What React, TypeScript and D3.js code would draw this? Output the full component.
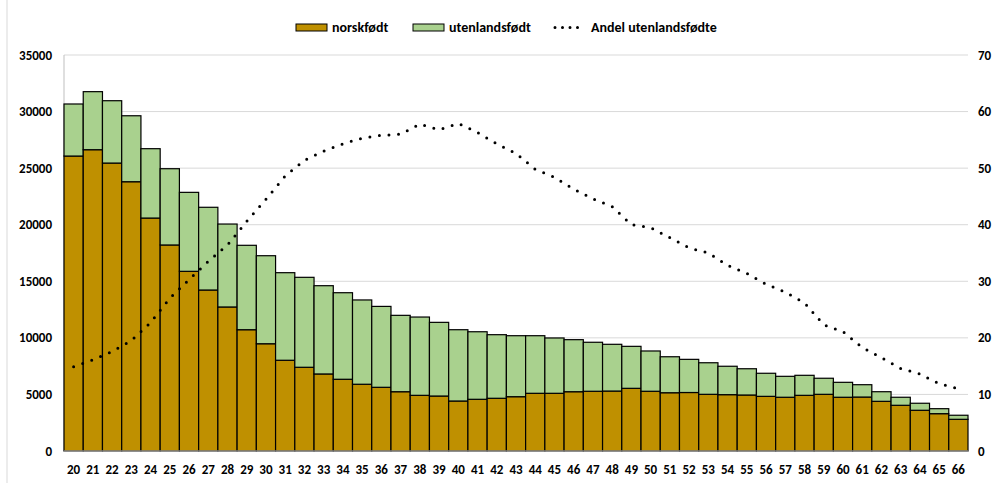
import React from "react";
import * as d3 from "d3";

const ages: string[] = Array.from({ length: 47 }, (_, i) => String(20 + i));
const norskfodt: number[] = [26070, 26630, 25450, 23800, 20590, 18210, 15880, 14230, 12730, 10720, 9480, 8020, 7400, 6810, 6340, 5900, 5630, 5240, 4920, 4860, 4420, 4570, 4660, 4800, 5100, 5100, 5240, 5280, 5300, 5540, 5280, 5150, 5170, 5010, 4980, 4950, 4830, 4750, 4920, 5010, 4750, 4770, 4390, 4040, 3600, 3300, 2800];
const utenlandsfodt: number[] = [4600, 5130, 5510, 5830, 6130, 6740, 6980, 7310, 7330, 7460, 7780, 7740, 7950, 7800, 7650, 7450, 7150, 6750, 6920, 6510, 6300, 5970, 5620, 5390, 5090, 4890, 4600, 4330, 4130, 3710, 3560, 3180, 2930, 2790, 2510, 2320, 2040, 1850, 1770, 1420, 1320, 1090, 850, 710, 620, 440, 360];
const andel: number[] = [14.9, 16.1, 17.6, 19.5, 22.7, 27.0, 30.3, 33.5, 36.4, 40.6, 44.5, 48.6, 51.4, 53.0, 54.3, 55.3, 55.8, 56.0, 57.8, 56.8, 57.9, 56.3, 54.3, 52.6, 49.8, 48.4, 46.3, 44.6, 43.2, 40.0, 39.5, 37.7, 35.9, 35.0, 32.8, 31.4, 29.5, 28.1, 26.2, 22.3, 21.1, 18.3, 16.5, 14.6, 13.6, 11.9, 11.0];
const leftTicks: number[] = [0, 5000, 10000, 15000, 20000, 25000, 30000, 35000];
const rightTicks: number[] = [0, 10, 20, 30, 40, 50, 60, 70];

const W = 993, H = 483;
const L = 64, R = 968, T = 55, B = 451;
const FONT = "Carlito, Calibri, 'Liberation Sans', Arial, sans-serif";
const C_NORSK = "#BF9000";
const C_UTL = "#A9D18E";

export default function App() {
  const x = d3.scaleBand<string>().domain(ages).range([L, R]).padding(0);
  const y = d3.scaleLinear().domain([0, 35000]).range([B, T]);
  const y2 = d3.scaleLinear().domain([0, 70]).range([B, T]);
  const line = d3
    .line<number>()
    .x((_, i) => (x(ages[i]) as number) + x.bandwidth() / 2)
    .y((d) => y2(d));

  return (
    <svg width={W} height={H} style={{ position: "absolute", left: 0, top: 0, display: "block", background: "#fff" }} fontFamily={FONT}>
      <rect x={0} y={0} width={W} height={H} fill="#fff" />
      <line x1={7} x2={7} y1={0} y2={H} stroke="#d9d9d9" strokeWidth={1} />
      {/* gridlines */}
      {leftTicks.map((t) => (
        <line key={"g" + t} x1={L} x2={R} y1={y(t)} y2={y(t)} stroke="#d9d9d9" strokeWidth={1} />
      ))}
      <line x1={L} x2={L} y1={T} y2={B} stroke="#bfbfbf" strokeWidth={1} />
      {/* bars */}
      {ages.map((a, i) => {
        const x0 = x(a) as number;
        const w = x.bandwidth();
        const n = norskfodt[i];
        const u = utenlandsfodt[i];
        return (
          <g key={a}>
            <rect x={x0} y={y(n)} width={w} height={y(0) - y(n)} fill={C_NORSK} stroke="#000" strokeWidth={1.2} />
            <rect x={x0} y={y(n + u)} width={w} height={y(n) - y(n + u)} fill={C_UTL} stroke="#000" strokeWidth={1.2} />
          </g>
        );
      })}
      <line x1={L} x2={R} y1={B} y2={B} stroke="#bfbfbf" strokeWidth={1} />
      {/* line */}
      <path d={line(andel) || ""} fill="none" stroke="#000" strokeWidth={3} strokeLinecap="round" strokeDasharray="0 9.6" />
      {/* left axis */}
      {leftTicks.map((t) => (
        <text key={"l" + t} x={52} y={y(t)} dy="0.35em" textAnchor="end" fontSize={13} fontWeight="bold" fill="#000">
          {t}
        </text>
      ))}
      {/* right axis */}
      {rightTicks.map((t) => (
        <text key={"r" + t} x={978} y={y2(t)} dy="0.35em" textAnchor="start" fontSize={13} fontWeight="bold" fill="#000">
          {t}
        </text>
      ))}
      {/* x axis labels */}
      {ages.map((a) => (
        <text key={"x" + a} x={(x(a) as number) + x.bandwidth() / 2} y={469} dy="0.35em" textAnchor="middle" fontSize={13} fontWeight="bold" fill="#000">
          {a}
        </text>
      ))}
      {/* legend */}
      <rect x={296} y={24} width={31} height={7} fill={C_NORSK} stroke="#000" strokeWidth={1} />
      <text x={332} y={27.5} dy="0.35em" fontSize={14} fontWeight="bold" fill="#000">norskfødt</text>
      <rect x={413} y={24} width={31} height={7} fill={C_UTL} stroke="#000" strokeWidth={1} />
      <text x={449} y={27.5} dy="0.35em" fontSize={14} fontWeight="bold" fill="#000">utenlandsfødt</text>
      <line x1={555} x2={585} y1={27.5} y2={27.5} stroke="#000" strokeWidth={3} strokeLinecap="round" strokeDasharray="0 7.5" />
      <text x={591} y={27.5} dy="0.35em" fontSize={14} fontWeight="bold" fill="#000">Andel utenlandsfødte</text>
    </svg>
  );
}
